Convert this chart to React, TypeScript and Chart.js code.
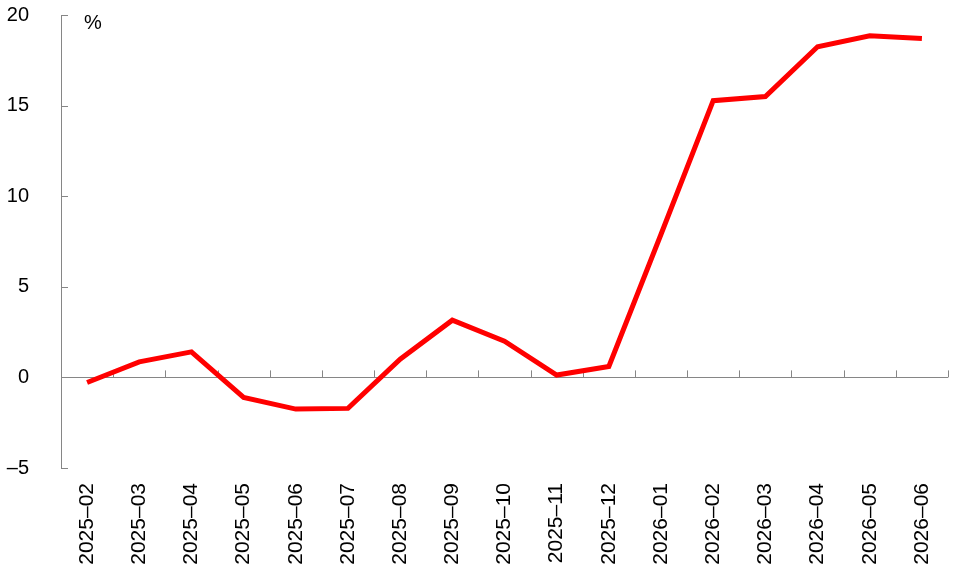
import React, { useEffect, useRef } from "react";
import { Chart, registerables } from "chart.js";

Chart.register(...registerables);

const categories = [
  "2025–02", "2025–03", "2025–04", "2025–05", "2025–06", "2025–07",
  "2025–08", "2025–09", "2025–10", "2025–11", "2025–12", "2026–01",
  "2026–02", "2026–03", "2026–04", "2026–05", "2026–06",
];

const values = [
  -0.28, 0.86, 1.41, -1.1, -1.75, -1.71, 1.0, 3.16, 2.0, 0.13, 0.6, 7.9,
  15.27, 15.5, 18.25, 18.85, 18.7,
];

const yTicks = [-5, 0, 5, 10, 15, 20];
const unitLabel = "%";

const AXIS_GREY = "#868686";
const FONT = "Arial, 'Liberation Sans', sans-serif";

const tickMarksPlugin = {
  id: "tickMarks",
  beforeDatasetsDraw(chart: any) {
    const { ctx, chartArea, scales } = chart;
    const xs = scales.x;
    const ys = scales.y;
    const y0 = ys.getPixelForValue(0);
    ctx.save();
    ctx.strokeStyle = AXIS_GREY;
    ctx.lineWidth = 1;
    ctx.beginPath();
    const step = xs.getPixelForValue(1) - xs.getPixelForValue(0);
    for (let i = 0; i < categories.length; i++) {
      const x = Math.round(xs.getPixelForValue(i) + step / 2) + 0.5;
      ctx.moveTo(x, y0);
      ctx.lineTo(x, y0 - 7);
    }
    for (const v of yTicks) {
      const y = Math.round(ys.getPixelForValue(v)) + 0.5;
      ctx.moveTo(chartArea.left, y);
      ctx.lineTo(chartArea.left + 7, y);
    }
    ctx.stroke();
    ctx.fillStyle = "#000";
    ctx.font = `20px ${FONT}`;
    ctx.textAlign = "left";
    ctx.textBaseline = "top";
    ctx.fillText(unitLabel, chartArea.left + 23, chartArea.top - 2);
    ctx.restore();
  },
};

export default function App() {
  const ref = useRef<HTMLCanvasElement | null>(null);

  useEffect(() => {
    if (!ref.current) return;
    const chart = new Chart(ref.current, {
      type: "line",
      data: {
        labels: categories,
        datasets: [
          {
            data: values,
            borderColor: "#FF0000",
            borderWidth: 5,
            pointRadius: 0,
            tension: 0,
            fill: false,
          },
        ],
      },
      options: {
        responsive: false,
        animation: false,
        devicePixelRatio: 1,
        layout: { padding: { left: 0, top: 15, right: 6, bottom: 0 } },
        plugins: {
          legend: { display: false },
          tooltip: { enabled: false },
          title: { display: false },
        },
        scales: {
          x: {
            type: "category",
            offset: true,
            grid: { display: false, drawTicks: false },
            border: { display: false },
            ticks: {
              minRotation: 90,
              maxRotation: 90,
              autoSkip: false,
              padding: 15,
              color: "#000",
              font: { family: FONT, size: 21 },
            },
            afterFit(scale: any) {
              scale.height = 107;
              scale.paddingLeft = 0;
              scale.paddingRight = 0;
            },
          },
          y: {
            min: -5,
            max: 20,
            grid: {
              drawTicks: false,
              color: (c: any) => (c.tick && c.tick.value === 0 ? AXIS_GREY : "rgba(0,0,0,0)"),
              lineWidth: 1,
            },
            border: { display: true, color: AXIS_GREY, width: 1 },
            afterBuildTicks(scale: any) {
              scale.ticks = yTicks.map((v) => ({ value: v }));
            },
            ticks: {
              padding: 32,
              color: "#000",
              font: { family: FONT, size: 20 },
              callback: (v: any) => (Number(v) < 0 ? "–" + Math.abs(Number(v)) : String(v)),
            },
            afterFit(scale: any) {
              scale.width = 61;
              scale.paddingTop = 0;
              scale.paddingBottom = 0;
            },
          },
        },
      },
      plugins: [tickMarksPlugin],
    });
    return () => chart.destroy();
  }, []);

  return (
    <div style={{ position: "absolute", left: 0, top: 0, width: 954, height: 575, background: "#fff" }}>
      <canvas ref={ref} width={954} height={575} style={{ display: "block" }} />
    </div>
  );
}
